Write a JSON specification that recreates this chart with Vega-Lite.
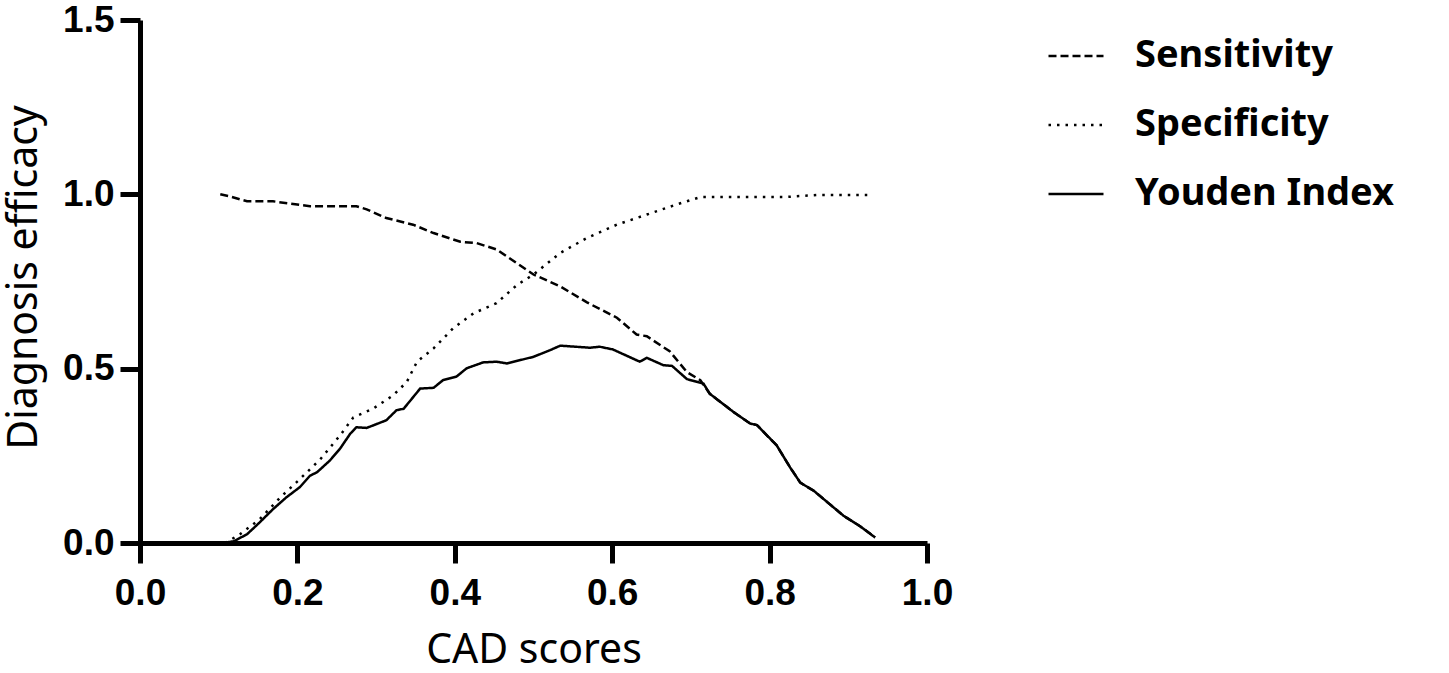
{
  "$schema": "https://vega.github.io/schema/vega-lite/v6.json",
  "autosize": "none",
  "width": 787,
  "height": 523,
  "padding": {"left": 140, "top": 20, "right": 522, "bottom": 130},
  "background": "white",
  "config": {
    "view": {"stroke": null},
    "axis": {
      "domainColor": "black",
      "domainWidth": 5,
      "tickColor": "black",
      "tickWidth": 5,
      "tickSize": 20,
      "grid": false,
      "labelFlush": false,
      "labelOverlap": false,
      "labelFont": "Liberation Sans",
      "labelFontWeight": "bold",
      "labelFontSize": 37,
      "labelColor": "black",
      "titleFont": "Noto Sans",
      "titleFontWeight": "normal",
      "titleFontSize": 41,
      "titleColor": "black"
    },
    "legend": {
      "symbolType": "stroke",
      "symbolStrokeColor": "black",
      "symbolStrokeWidth": 2.5,
      "symbolSize": 3025,
      "labelFont": "Noto Sans",
      "labelFontWeight": "bold",
      "labelFontSize": 38,
      "labelColor": "black",
      "labelOffset": 30,
      "labelLimit": 400,
      "rowPadding": 21
    }
  },
  "data": {
    "values": [
      {"score": 0.102, "value": 1.0, "series": "Sensitivity"},
      {"score": 0.114, "value": 0.994, "series": "Sensitivity"},
      {"score": 0.136, "value": 0.98, "series": "Sensitivity"},
      {"score": 0.169, "value": 0.98, "series": "Sensitivity"},
      {"score": 0.216, "value": 0.966, "series": "Sensitivity"},
      {"score": 0.275, "value": 0.966, "series": "Sensitivity"},
      {"score": 0.288, "value": 0.957, "series": "Sensitivity"},
      {"score": 0.313, "value": 0.932, "series": "Sensitivity"},
      {"score": 0.347, "value": 0.913, "series": "Sensitivity"},
      {"score": 0.373, "value": 0.889, "series": "Sensitivity"},
      {"score": 0.407, "value": 0.864, "series": "Sensitivity"},
      {"score": 0.428, "value": 0.86, "series": "Sensitivity"},
      {"score": 0.453, "value": 0.842, "series": "Sensitivity"},
      {"score": 0.466, "value": 0.822, "series": "Sensitivity"},
      {"score": 0.5, "value": 0.77, "series": "Sensitivity"},
      {"score": 0.534, "value": 0.736, "series": "Sensitivity"},
      {"score": 0.568, "value": 0.69, "series": "Sensitivity"},
      {"score": 0.606, "value": 0.646, "series": "Sensitivity"},
      {"score": 0.631, "value": 0.598, "series": "Sensitivity"},
      {"score": 0.644, "value": 0.593, "series": "Sensitivity"},
      {"score": 0.673, "value": 0.55, "series": "Sensitivity"},
      {"score": 0.695, "value": 0.49, "series": "Sensitivity"},
      {"score": 0.712, "value": 0.467, "series": "Sensitivity"},
      {"score": 0.724, "value": 0.428, "series": "Sensitivity"},
      {"score": 0.754, "value": 0.376, "series": "Sensitivity"},
      {"score": 0.775, "value": 0.343, "series": "Sensitivity"},
      {"score": 0.784, "value": 0.338, "series": "Sensitivity"},
      {"score": 0.809, "value": 0.28, "series": "Sensitivity"},
      {"score": 0.826, "value": 0.217, "series": "Sensitivity"},
      {"score": 0.839, "value": 0.173, "series": "Sensitivity"},
      {"score": 0.856, "value": 0.15, "series": "Sensitivity"},
      {"score": 0.894, "value": 0.078, "series": "Sensitivity"},
      {"score": 0.915, "value": 0.048, "series": "Sensitivity"},
      {"score": 0.934, "value": 0.016, "series": "Sensitivity"},
      {"score": 0.108, "value": 0.0, "series": "Specificity"},
      {"score": 0.127, "value": 0.025, "series": "Specificity"},
      {"score": 0.152, "value": 0.068, "series": "Specificity"},
      {"score": 0.178, "value": 0.13, "series": "Specificity"},
      {"score": 0.203, "value": 0.183, "series": "Specificity"},
      {"score": 0.229, "value": 0.24, "series": "Specificity"},
      {"score": 0.254, "value": 0.308, "series": "Specificity"},
      {"score": 0.271, "value": 0.36, "series": "Specificity"},
      {"score": 0.296, "value": 0.385, "series": "Specificity"},
      {"score": 0.322, "value": 0.424, "series": "Specificity"},
      {"score": 0.339, "value": 0.462, "series": "Specificity"},
      {"score": 0.352, "value": 0.52, "series": "Specificity"},
      {"score": 0.373, "value": 0.558, "series": "Specificity"},
      {"score": 0.398, "value": 0.616, "series": "Specificity"},
      {"score": 0.424, "value": 0.659, "series": "Specificity"},
      {"score": 0.453, "value": 0.688, "series": "Specificity"},
      {"score": 0.479, "value": 0.74, "series": "Specificity"},
      {"score": 0.5, "value": 0.77, "series": "Specificity"},
      {"score": 0.534, "value": 0.832, "series": "Specificity"},
      {"score": 0.568, "value": 0.875, "series": "Specificity"},
      {"score": 0.606, "value": 0.913, "series": "Specificity"},
      {"score": 0.644, "value": 0.942, "series": "Specificity"},
      {"score": 0.682, "value": 0.971, "series": "Specificity"},
      {"score": 0.712, "value": 0.992, "series": "Specificity"},
      {"score": 0.754, "value": 0.992, "series": "Specificity"},
      {"score": 0.817, "value": 0.992, "series": "Specificity"},
      {"score": 0.86, "value": 0.998, "series": "Specificity"},
      {"score": 0.93, "value": 0.998, "series": "Specificity"},
      {"score": 0.0, "value": 0.0, "series": "Youden Index"},
      {"score": 0.106, "value": 0.0, "series": "Youden Index"},
      {"score": 0.119, "value": 0.005, "series": "Youden Index"},
      {"score": 0.136, "value": 0.025, "series": "Youden Index"},
      {"score": 0.152, "value": 0.059, "series": "Youden Index"},
      {"score": 0.169, "value": 0.097, "series": "Youden Index"},
      {"score": 0.186, "value": 0.131, "series": "Youden Index"},
      {"score": 0.203, "value": 0.16, "series": "Youden Index"},
      {"score": 0.216, "value": 0.193, "series": "Youden Index"},
      {"score": 0.225, "value": 0.203, "series": "Youden Index"},
      {"score": 0.241, "value": 0.236, "series": "Youden Index"},
      {"score": 0.254, "value": 0.27, "series": "Youden Index"},
      {"score": 0.267, "value": 0.313, "series": "Youden Index"},
      {"score": 0.275, "value": 0.332, "series": "Youden Index"},
      {"score": 0.288, "value": 0.33, "series": "Youden Index"},
      {"score": 0.313, "value": 0.352, "series": "Youden Index"},
      {"score": 0.326, "value": 0.381, "series": "Youden Index"},
      {"score": 0.335, "value": 0.385, "series": "Youden Index"},
      {"score": 0.356, "value": 0.443, "series": "Youden Index"},
      {"score": 0.373, "value": 0.445, "series": "Youden Index"},
      {"score": 0.385, "value": 0.467, "series": "Youden Index"},
      {"score": 0.402, "value": 0.477, "series": "Youden Index"},
      {"score": 0.415, "value": 0.501, "series": "Youden Index"},
      {"score": 0.436, "value": 0.518, "series": "Youden Index"},
      {"score": 0.453, "value": 0.52, "series": "Youden Index"},
      {"score": 0.466, "value": 0.515, "series": "Youden Index"},
      {"score": 0.5, "value": 0.534, "series": "Youden Index"},
      {"score": 0.521, "value": 0.553, "series": "Youden Index"},
      {"score": 0.534, "value": 0.566, "series": "Youden Index"},
      {"score": 0.572, "value": 0.56, "series": "Youden Index"},
      {"score": 0.584, "value": 0.563, "series": "Youden Index"},
      {"score": 0.601, "value": 0.555, "series": "Youden Index"},
      {"score": 0.635, "value": 0.52, "series": "Youden Index"},
      {"score": 0.644, "value": 0.531, "series": "Youden Index"},
      {"score": 0.665, "value": 0.51, "series": "Youden Index"},
      {"score": 0.676, "value": 0.508, "series": "Youden Index"},
      {"score": 0.695, "value": 0.47, "series": "Youden Index"},
      {"score": 0.716, "value": 0.457, "series": "Youden Index"},
      {"score": 0.724, "value": 0.428, "series": "Youden Index"},
      {"score": 0.754, "value": 0.376, "series": "Youden Index"},
      {"score": 0.775, "value": 0.343, "series": "Youden Index"},
      {"score": 0.784, "value": 0.338, "series": "Youden Index"},
      {"score": 0.809, "value": 0.28, "series": "Youden Index"},
      {"score": 0.826, "value": 0.217, "series": "Youden Index"},
      {"score": 0.839, "value": 0.173, "series": "Youden Index"},
      {"score": 0.856, "value": 0.15, "series": "Youden Index"},
      {"score": 0.894, "value": 0.078, "series": "Youden Index"},
      {"score": 0.915, "value": 0.048, "series": "Youden Index"},
      {"score": 0.934, "value": 0.016, "series": "Youden Index"}
    ]
  },
  "mark": {"type": "line", "color": "black", "strokeWidth": 2.5, "strokeCap": "butt", "clip": false},
  "encoding": {
    "x": {
      "field": "score",
      "type": "quantitative",
      "title": "CAD scores",
      "scale": {"domain": [0, 1], "nice": false},
      "axis": {"values": [0, 0.2, 0.4, 0.6, 0.8, 1.0], "format": ".1f", "labelPadding": 12, "titlePadding": 19}
    },
    "y": {
      "field": "value",
      "type": "quantitative",
      "title": "Diagnosis efficacy",
      "scale": {"domain": [0, 1.5], "nice": false},
      "axis": {"values": [0, 0.5, 1.0, 1.5], "format": ".1f", "labelPadding": 6, "titleX": -95, "titleY": 257, "titleAngle": 270, "titleBaseline": "bottom", "titleAlign": "center"}
    },
    "strokeDash": {
      "field": "series",
      "type": "nominal",
      "scale": {
        "domain": ["Sensitivity", "Specificity", "Youden Index"],
        "range": [[8, 4], [2.5, 6], [1, 0]]
      },
      "legend": {"title": null, "orient": "none", "legendX": 907, "legendY": 7}
    },
    "order": {"field": "score", "type": "quantitative"}
  }
}
